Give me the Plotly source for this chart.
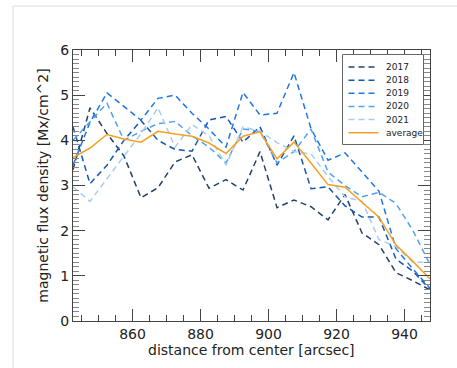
import plotly.graph_objects as go

# radial bins (arcsec from disk center)
distance = [842.5 + 5 * i for i in range(22)]

flux_2017 = [3.35, 4.72, 4.15, 3.65, 2.73, 2.95, 3.52, 3.68, 2.94, 3.13, 2.90,
             3.75, 2.51, 2.68, 2.53, 2.24, 2.80, 1.95, 1.69, 1.07, 0.89, 0.69]
flux_2018 = [4.30, 3.04, 3.45, 4.00, 4.44, 4.00, 3.80, 3.76, 4.45, 4.53, 3.96,
             4.30, 3.45, 4.10, 2.93, 2.97, 2.55, 2.30, 2.30, 1.37, 1.10, 0.70]
flux_2019 = [3.45, 4.40, 5.05, 4.75, 4.45, 4.93, 5.00, 4.60, 4.25, 3.85, 5.06,
             4.56, 4.60, 5.50, 4.26, 3.56, 3.72, 3.30, 2.87, 1.60, 1.15, 0.73]
flux_2020 = [4.00, 4.40, 4.82, 4.00, 4.20, 4.37, 4.42, 4.10, 3.85, 3.50, 4.25,
             4.20, 3.50, 3.75, 4.25, 3.30, 3.00, 2.75, 2.85, 2.60, 2.00, 1.25]
flux_2021 = [2.97, 2.65, 3.15, 3.65, 4.15, 4.72, 3.85, 4.35, 4.10, 3.45, 4.30,
             4.20, 3.95, 3.75, 3.70, 3.20, 2.75, 2.65, 1.80, 1.65, 1.30, 1.30]
flux_avg = [3.62, 3.83, 4.13, 4.03, 3.96, 4.20, 4.14, 4.09, 3.94, 3.71, 4.09,
            4.19, 3.59, 3.96, 3.50, 3.02, 2.96, 2.62, 2.30, 1.68, 1.32, 0.93]

years = ["2017", "2018", "2019", "2020", "2021"]
series = [flux_2017, flux_2018, flux_2019, flux_2020, flux_2021]
colors = ["#23426b", "#1457b0", "#1e78e6", "#4fa3f2", "#a6cdf5"]
avg_color = "#f5a020"
dash_style = "6px,4px"

fig = go.Figure()
for name, vals, col in zip(years, series, colors):
    fig.add_trace(go.Scatter(x=distance, y=vals, mode="lines", name=name,
                             showlegend=False,
                             line=dict(color=col, width=1.5, dash=dash_style)))
fig.add_trace(go.Scatter(x=distance, y=flux_avg, mode="lines", name="average",
                         showlegend=False,
                         line=dict(color=avg_color, width=1.5)))

L, R, T, B = 73, 27, 50, 47
W, H = 457, 368
pw, ph = W - L - R, H - T - B


def px_x(px):
    return (px - L) / pw


def px_y(py):
    return (H - B - py) / ph


axis_common = dict(
    showline=True, linecolor="#444", linewidth=1, mirror="ticks",
    ticks="inside", ticklen=12, tickcolor="#444", tickwidth=1,
    showgrid=False, zeroline=False,
    tickfont=dict(family="DejaVu Sans", size=14, color="#222"),
    title_font=dict(family="DejaVu Sans", size=14, color="#222"),
)

# thin page frame plus a compact boxed legend in the upper right corner
shapes = [
    dict(type="line", xref="paper", yref="paper",
         x0=px_x(13), x1=px_x(457), y0=px_y(6), y1=px_y(6),
         line=dict(color="#dddddd", width=1)),
    dict(type="line", xref="paper", yref="paper",
         x0=px_x(13), x1=px_x(13), y0=px_y(6), y1=px_y(368),
         line=dict(color="#dddddd", width=1)),
    dict(type="rect", xref="paper", yref="paper",
         x0=px_x(342.5), x1=px_x(423.5), y0=px_y(54.5), y1=px_y(144.5),
         fillcolor="white", line=dict(color="#666", width=1), layer="above"),
]
annotations = [
    dict(xref="paper", yref="paper", x=0.5, y=px_y(339.5),
         xanchor="center", yanchor="top", showarrow=False,
         text="distance from center [arcsec]",
         font=dict(family="DejaVu Sans", size=14, color="#222")),
]
labels = years + ["average"]
entry_colors = colors + [avg_color]
for i, (lab, col) in enumerate(zip(labels, entry_colors)):
    yy = 67 + i * 13.15
    shapes.append(dict(type="line", xref="paper", yref="paper",
                       x0=px_x(348.5), x1=px_x(378.5), y0=px_y(yy), y1=px_y(yy),
                       layer="above",
                       line=dict(color=col, width=1.5,
                                 dash="solid" if lab == "average" else dash_style)))
    annotations.append(dict(xref="paper", yref="paper", x=px_x(384), y=px_y(yy),
                            xanchor="left", yanchor="middle", showarrow=False,
                            text=lab, font=dict(family="DejaVu Sans", size=9, color="#222")))

fig.update_layout(
    width=W, height=H,
    margin=dict(l=L, r=R, t=T, b=B),
    paper_bgcolor="white", plot_bgcolor="white",
    font=dict(family="DejaVu Sans", color="#222"),
    showlegend=False,
    xaxis=dict(range=[distance[0], distance[-1]], tickvals=[860, 880, 900, 920, 940],
               minor=dict(dtick=5, tick0=0, ticklen=6, ticks="inside", tickcolor="#444"),
               **axis_common),
    yaxis=dict(range=[0, 6], dtick=1,
               title=dict(text="magnetic flux density [Mx/cm^2]", standoff=8),
               minor=dict(dtick=0.1, ticklen=6, ticks="inside", tickcolor="#888"),
               **axis_common),
    shapes=shapes,
    annotations=annotations,
)

fig.write_html("out.html")
